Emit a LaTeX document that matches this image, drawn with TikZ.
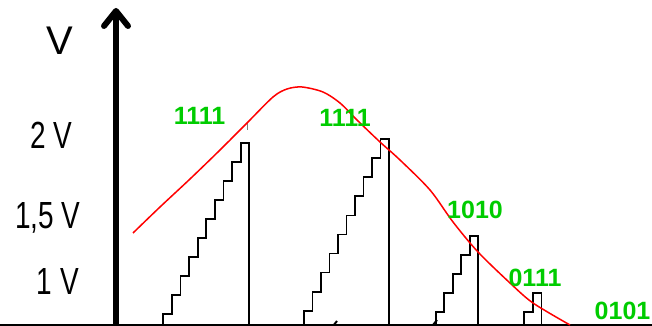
\documentclass[tikz,border=0pt]{standalone}
\usepackage{fontspec}
\setmainfont{Liberation Sans}
\usepackage{graphicx}
\usetikzlibrary{arrows.meta}
\definecolor{codegreen}{RGB}{0,204,0}

\newcommand{\tallv}[1]{\scalebox{1}[1.35]{#1}}
% x0, first top, steps, tread, rise
\newcommand{\stairs}[5]{%
  \draw[stair] (#1,1) \foreach \k in {1,...,#3}{
      -- ({#1+(\k-1)*#4},{#2+(\k-1)*#5}) -- ({#1+\k*#4},{#2+(\k-1)*#5})}
    -- ({#1+#3*#4},1);
}

\begin{document}
\begin{tikzpicture}[
    x=1pt, y=1pt,
    yaxis/.style={line width=6pt, -{Straight Barb[length=15pt, width=24pt, round]}},
    xaxis/.style={line width=1.5pt},
    stair/.style={draw, line width=1.8pt, line join=miter},
    signal/.style={red, line width=1.5pt},
    ylab/.style={anchor=base, inner sep=0pt, font=\fontsize{28}{30}\selectfont},
    code/.style={inner sep=0pt, text=codegreen, font=\bfseries\fontsize{25}{28}\selectfont},
]
\useasboundingbox (0,0) rectangle (652,326);

\coordinate (xleft) at (0,1);
\coordinate (xright) at (652,1);
\coordinate (origin) at (116,0);
\coordinate (ytop) at (116,318);
\draw[xaxis] (xleft) -- (xright);
\draw[yaxis] (origin) -- (ytop);

\node[ylab, font=\fontsize{40}{42}\selectfont] (vunit) at (60,271) {V};
\node[ylab] (v2) at (51.5,177) {\tallv{2 V}};
\node[ylab] (v15) at (48,97.7) {\tallv{1,5 V}};
\node[ylab] (v1) at (58,31) {\tallv{1 V}};

\stairs{163.3}{11.7}{10}{8.6}{19}
\stairs{304}{15.3}{10}{8.5}{19.05}
\stairs{435.7}{13.7}{5}{8.5}{19.15}
\stairs{524}{13.7}{2}{8.7}{19}

\draw[gray, line width=1pt] (247.7,196) -- (247.7,203);
\draw[line width=2pt] (333,0) -- (337,5);
\draw[line width=2pt] (433,1) -- (437,6);

\draw[signal] plot[smooth] coordinates {(133,93) (160,119) (190,147) (220,176)
  (247,203) (273,229) (287,237) (302,239) (323,234) (340,223) (357,206)
  (380,184) (400,166) (430,136) (453,104) (478,74) (510,43) (533,23) (570,1)};

\node[code] (codeA) at (199.5,210) {1111};
\node[code] (codeB) at (345,208) {1111};
\node[code] (codeC) at (475,116) {1010};
\node[code] (codeD) at (535,48) {0111};
\node[code] (codeE) at (622.5,15) {0101};
\end{tikzpicture}
\end{document}
